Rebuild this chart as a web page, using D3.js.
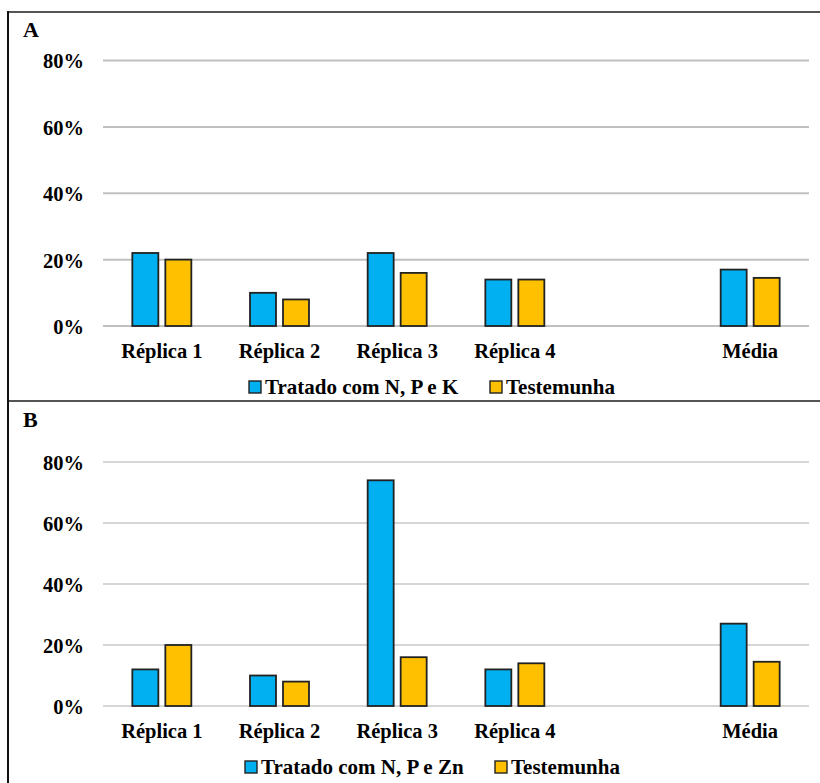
<!DOCTYPE html>
<html>
<head>
<meta charset="utf-8">
<script src="https://cdn.jsdelivr.net/npm/d3@7/dist/d3.min.js"></script>
<style>
  html, body { margin: 0; padding: 0; background: #fff; }
  svg text { font-family: "Liberation Serif", "Times New Roman", serif; font-weight: bold; fill: #000; }
</style>
</head>
<body>
<svg id="chart" width="820" height="783"></svg>
<script>
// Categories (the empty slot leaves a gap before the mean)
const categories = ["Réplica 1", "Réplica 2", "Réplica 3", "Réplica 4", "", "Média"];
const yTicks = [0, 0.2, 0.4, 0.6, 0.8];

// Panel A: N, P, K treatment vs control
const seriesA_treated = [0.22, 0.10, 0.22, 0.14, null, 0.17];
const seriesA_control = [0.20, 0.08, 0.16, 0.14, null, 0.145];
const legendA = ["Tratado com N, P e K", "Testemunha"];

// Panel B: N, P, Zn treatment vs control
const seriesB_treated = [0.12, 0.10, 0.74, 0.12, null, 0.27];
const seriesB_control = [0.20, 0.08, 0.16, 0.14, null, 0.145];
const legendB = ["Tratado com N, P e Zn", "Testemunha"];

const colors = ["#00b0f0", "#ffc000"];
const svg = d3.select("#chart");

// Panel frames: left edge plus horizontal separators
const frame = svg.append("g");
frame.append("line").attr("x1", 7).attr("x2", 820).attr("y1", 12).attr("y2", 12)
  .attr("stroke", "#555").attr("stroke-width", 2);
frame.append("line").attr("x1", 8).attr("x2", 820).attr("y1", 401).attr("y2", 401)
  .attr("stroke", "#555").attr("stroke-width", 2);
frame.append("line").attr("x1", 8).attr("x2", 8).attr("y1", 11).attr("y2", 783)
  .attr("stroke", "#111").attr("stroke-width", 2);

const x = d3.scaleBand().domain(categories).range([103, 809]).paddingInner(0).paddingOuter(0);
const xInner = d3.scaleBand().domain([0, 1])
  .range([(x.bandwidth() - 59) / 2, (x.bandwidth() + 59) / 2])
  .paddingInner(0.212).paddingOuter(0);

function drawPanel(cfg) {
  const g = svg.append("g");
  const y = d3.scaleLinear().domain([0, 0.8]).range([cfg.y0, cfg.y80]);

  // Panel letter
  g.append("text").attr("x", 23).attr("y", cfg.letterY).attr("font-size", 22).text(cfg.letter);

  // Gridlines
  g.append("g").selectAll("line").data(yTicks).join("line")
    .attr("x1", 103).attr("x2", 809)
    .attr("y1", d => y(d)).attr("y2", d => y(d))
    .attr("stroke", cfg.gridColor).attr("stroke-width", 2);

  // Y axis labels
  const yAxis = d3.axisLeft(y).tickValues(yTicks).tickFormat(d3.format(".0%")).tickSize(0).tickPadding(0);
  const ya = g.append("g").attr("transform", "translate(84,0)").call(yAxis);
  ya.attr("font-family", null).attr("font-size", null);
  ya.select(".domain").remove();
  ya.selectAll("text").attr("font-size", 20.5).attr("fill", "#000").attr("dy", "0.36em");

  // Category labels
  const xAxis = d3.axisBottom(x).tickSize(0).tickPadding(0);
  const xa = g.append("g").attr("transform", `translate(0,${cfg.labelY})`).call(xAxis);
  xa.attr("font-family", null).attr("font-size", null);
  xa.select(".domain").remove();
  xa.selectAll("text").attr("font-size", 20.5).attr("fill", "#000").attr("dy", 0);

  // Bars
  const series = [cfg.treated, cfg.control];
  series.forEach((vals, si) => {
    g.append("g").selectAll("rect")
      .data(categories.map((c, i) => ({ c, v: vals[i] })).filter(d => d.v != null))
      .join("rect")
      .attr("x", d => x(d.c) + xInner(si))
      .attr("width", xInner.bandwidth())
      .attr("y", d => y(d.v))
      .attr("height", d => y(0) - y(d.v))
      .attr("fill", colors[si])
      .attr("stroke", "#222").attr("stroke-width", 1.8);
  });

  // Legend
  const lg = g.append("g");
  cfg.legend.forEach((name, i) => {
    const lx = cfg.legendX[i];
    lg.append("rect").attr("x", lx).attr("y", cfg.legendY - 13).attr("width", 12).attr("height", 12)
      .attr("fill", colors[i]).attr("stroke", "#222").attr("stroke-width", 1.4);
    lg.append("text").attr("x", lx + 16).attr("y", cfg.legendY).attr("font-size", 21).text(name);
  });
}

drawPanel({
  letter: "A", letterY: 37, y0: 326, y80: 60.5, labelY: 358, gridColor: "#c0c0c0",
  treated: seriesA_treated, control: seriesA_control, legend: legendA,
  legendX: [249, 490], legendY: 394
});

drawPanel({
  letter: "B", letterY: 427, y0: 706, y80: 462, labelY: 738, gridColor: "#d6d6d6",
  treated: seriesB_treated, control: seriesB_control, legend: legendB,
  legendX: [245, 495], legendY: 774
});
</script>
</body>
</html>
